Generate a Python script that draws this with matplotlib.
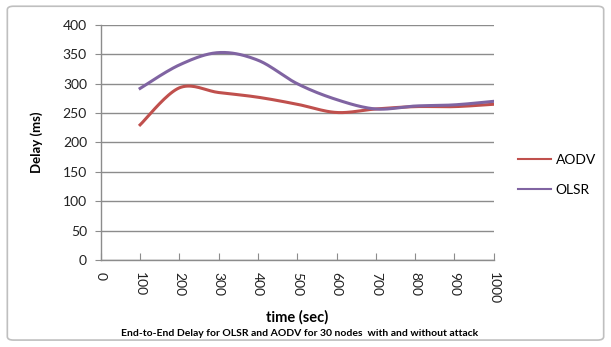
import numpy as np
import matplotlib.pyplot as plt
from matplotlib.patches import FancyBboxPatch

# sample times (sec) and end-to-end delay (ms)
time_sec = [100, 200, 300, 400, 500, 600, 700, 800, 900, 1000]
aodv_delay = [230, 293, 285, 277, 265, 251, 257, 261, 261, 265]
olsr_delay = [292, 332, 353, 340, 300, 273, 257, 262, 264, 270]
x_ticks = [0, 100, 200, 300, 400, 500, 600, 700, 800, 900, 1000]

plt.rcParams['font.family'] = ['Lato', 'DejaVu Sans']


def smooth(x, y, n=20):
    # Catmull-Rom curve through the points, like a smoothed office-chart line
    x = np.asarray(x, float)
    y = np.asarray(y, float)
    px = np.concatenate([[x[0]], x, [x[-1]]])
    py = np.concatenate([[y[0]], y, [y[-1]]])
    xs, ys = [], []
    for i in range(1, len(px) - 2):
        t = np.linspace(0, 1, n, endpoint=False)
        for arr, out in ((px, xs), (py, ys)):
            p0, p1, p2, p3 = arr[i - 1], arr[i], arr[i + 1], arr[i + 2]
            out.extend(0.5 * ((2 * p1) + (-p0 + p2) * t
                              + (2 * p0 - 5 * p1 + 4 * p2 - p3) * t ** 2
                              + (-p0 + 3 * p1 - 3 * p2 + p3) * t ** 3))
    xs.append(x[-1])
    ys.append(y[-1])
    return np.array(xs), np.array(ys)


fig = plt.figure(figsize=(6.11, 3.47), dpi=100)
fig.patches.append(FancyBboxPatch((0.012, 0.02), 0.976, 0.962,
                                  boxstyle='round,pad=0,rounding_size=0.01',
                                  transform=fig.transFigure, fill=False,
                                  edgecolor='#BFBFBF', linewidth=1.2))

ax = fig.add_axes([0.165, 0.251, 0.643, 0.677])

ax.plot(*smooth(time_sec, aodv_delay), color='#C0504D', linewidth=2.2, label='AODV')
ax.plot(*smooth(time_sec, olsr_delay), color='#8064A2', linewidth=2.2, label='OLSR')

ax.set_xlim(0, 1000)
ax.set_ylim(0, 400)
ax.set_yticks(range(0, 401, 50))
ax.set_xticks(x_ticks)
ax.set_xticklabels([str(v) for v in x_ticks], rotation=-90)
ax.grid(axis='y', color='#8C8C8C', linewidth=1)
ax.set_axisbelow(True)

for side in ('top', 'right'):
    ax.spines[side].set_visible(False)
for side in ('left', 'bottom'):
    ax.spines[side].set_color('#8C8C8C')
    ax.spines[side].set_linewidth(1)
ax.tick_params(axis='both', colors='#8C8C8C', labelcolor='#222222', labelsize=10, length=4)
ax.tick_params(axis='y', direction='out', pad=6)
ax.tick_params(axis='x', direction='in', length=5, pad=9)

ax.set_ylabel('Delay (ms)', fontsize=9.5, fontweight='bold', labelpad=14)
ax.set_xlabel('time (sec)', fontsize=10.5, fontweight='bold', labelpad=4)

fig.text(0.49, 0.04, 'End-to-End Delay for OLSR and AODV for 30 nodes  with and without attack',
         ha='center', va='center', fontsize=7.5, fontweight='bold')

leg = ax.legend(loc='center left', bbox_to_anchor=(1.03, 0.36), frameon=False,
                fontsize=10, handlelength=2.4, handletextpad=0.3, labelspacing=1.3)
for line in leg.get_lines():
    line.set_linewidth(1.5)

fig.savefig('out.png', dpi=100)
